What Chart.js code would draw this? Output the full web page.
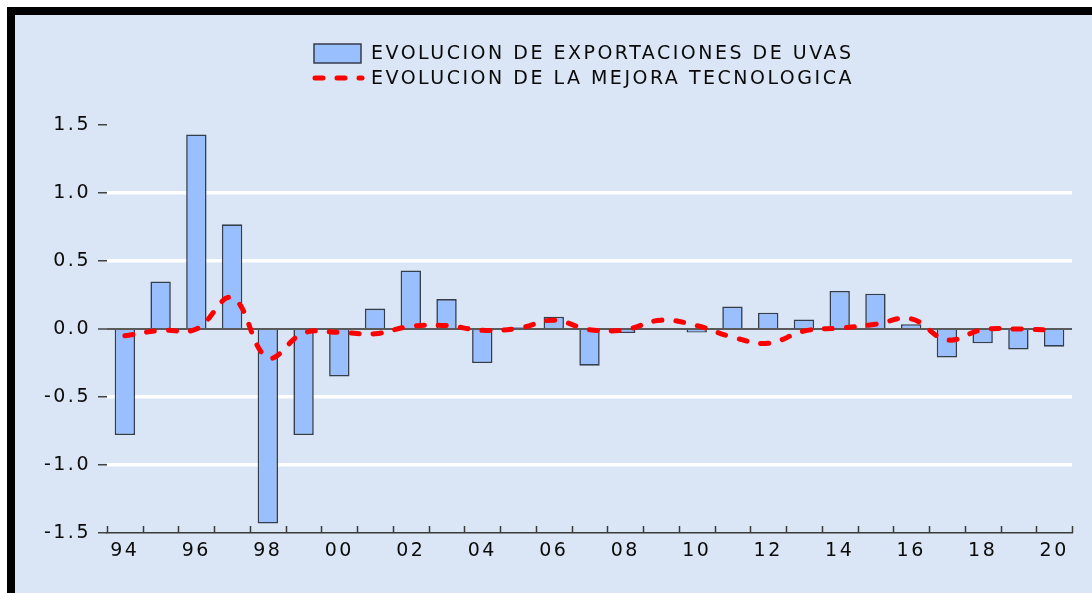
<!DOCTYPE html>
<html>
<head>
<meta charset="utf-8">
<script src="https://cdn.jsdelivr.net/npm/chart.js@4.4.1/dist/chart.umd.min.js"></script>
<style>
html, body { margin: 0; padding: 0; background: #fff; width: 1092px; height: 593px; overflow: hidden; }
#frame { position: absolute; left: 7px; top: 7px; width: 1077px; height: 578px;
         border-left: 8px solid #000; border-top: 8px solid #000; background: #dae6f5; }
#chart { position: absolute; left: 0; top: 0; }
</style>
</head>
<body>
<div id="frame"></div>
<canvas id="chart" width="1092" height="593"></canvas>
<script>

// years 1994 - 2020
var years = ['94', '95', '96', '97', '98', '99', '00', '01', '02', '03', '04', '05', '06', '07',
             '08', '09', '10', '11', '12', '13', '14', '15', '16', '17', '18', '19', '20'];

var exportaciones = [-0.78, 0.35, 1.43, 0.77, -1.43, -0.78, -0.35, 0.15, 0.43, 0.22, -0.25, 0.015, 0.09, -0.27,
                     -0.03, 0.0, -0.025, 0.165, 0.12, 0.07, 0.28, 0.26, 0.035, -0.21, -0.105, -0.15, -0.13];

var mejora = [-0.05, -0.01, 0.0, 0.23, -0.21, -0.03, -0.025, -0.035, 0.02, 0.025, -0.01, 0.005, 0.065, -0.005,
              -0.005, 0.065, 0.025, -0.06, -0.105, -0.015, 0.007, 0.035, 0.075, -0.08, -0.005, 0.0, -0.01];

var seriesNames = ['EVOLUCION DE EXPORTACIONES DE UVAS', 'EVOLUCION DE LA MEJORA TECNOLOGICA'];

var barFill = '#99bfff',
    barEdge = '#363d4a',
    lineRed = '#ff0000',
    fontFamily = "'DejaVu Sans', Verdana, sans-serif",
    fontSize = 19,
    letterGap = '2.5px';

function spacing(chart) {
    chart.ctx.letterSpacing = letterGap;
}

var spacedText = {
    id: 'spacedText',
    beforeUpdate: spacing,
    beforeRender: spacing,
    beforeDraw: spacing
};

// small tick marks on the x axis, pointing up, at the year boundaries
var innerTicks = {
    id: 'innerTicks',
    afterDraw: function(chart) {
        var ctx = chart.ctx,
            xs = chart.scales.x,
            n = years.length,
            step = (xs.right - xs.left) / n;
        ctx.save();
        ctx.strokeStyle = '#3a3a3a';
        ctx.lineWidth = 1.5;
        ctx.beginPath();
        for (var i = 0; i <= n; i++) {
            var x = Math.round(xs.left + i * step) + 0.5;
            ctx.moveTo(x, xs.top - 7);
            ctx.lineTo(x, xs.top);
        }
        ctx.stroke();
        ctx.restore();
    }
};

var boxLegend = {
    id: 'boxLegend',
    afterDraw: function(chart) {
        var ctx = chart.ctx;
        ctx.save();
        ctx.letterSpacing = letterGap;
        ctx.font = fontSize + 'px ' + fontFamily;
        ctx.textBaseline = 'alphabetic';
        ctx.textAlign = 'left';

        ctx.fillStyle = barFill;
        ctx.fillRect(314, 44, 47, 19);
        ctx.strokeStyle = barEdge;
        ctx.lineWidth = 1.5;
        ctx.strokeRect(314, 44, 47, 19);

        ctx.fillStyle = '#0a0a0a';
        ctx.fillText(seriesNames[0], 371, 59);

        ctx.strokeStyle = lineRed;
        ctx.lineWidth = 5;
        ctx.lineCap = 'round';
        ctx.setLineDash([8, 14]);
        ctx.beginPath();
        ctx.moveTo(315, 78);
        ctx.lineTo(362, 78);
        ctx.stroke();
        ctx.setLineDash([]);

        ctx.fillText(seriesNames[1], 371, 84);
        ctx.restore();
    }
};

var chart = new Chart(document.getElementById('chart').getContext('2d'), {
    type: 'bar',
    data: {
        labels: years,
        datasets: [
            {
                type: 'line',
                label: seriesNames[1],
                data: mejora,
                borderColor: lineRed,
                borderWidth: 5,
                borderDash: [8, 14],
                borderCapStyle: 'round',
                pointRadius: 0,
                tension: 0.4,
                fill: false,
                order: 0
            },
            {
                label: seriesNames[0],
                data: exportaciones,
                backgroundColor: barFill,
                borderColor: barEdge,
                borderWidth: 1.6,
                barPercentage: 0.57,
                categoryPercentage: 1,
                order: 1
            }
        ]
    },
    options: {
        responsive: false,
        animation: false,
        layout: { padding: { top: 125, right: 20, left: 0, bottom: 0 } },
        plugins: {
            legend: { display: false },
            tooltip: { enabled: false }
        },
        scales: {
            x: {
                offset: true,
                grid: { display: false, drawTicks: false },
                border: { display: true, color: '#3a3a3a', width: 1.5 },
                ticks: {
                    autoSkip: false,
                    maxRotation: 0,
                    padding: 7,
                    color: '#0a0a0a',
                    font: { family: fontFamily, size: fontSize },
                    callback: function(v, i) { return i % 2 == 0 ? years[i] : ''; }
                },
                afterFit: function(s) { s.height = 60; }
            },
            y: {
                min: -1.5,
                max: 1.5,
                border: { display: false },
                grid: {
                    color: function(c) {
                        var v = c.tick.value;
                        if (v == 0) return '#5a5a5a';
                        if (Math.abs(v) == 1.5) return 'rgba(0,0,0,0)';
                        return '#ffffff';
                    },
                    lineWidth: function(c) { return c.tick.value == 0 ? 2 : 3.5; },
                    tickColor: '#444',
                    tickLength: 9,
                    tickWidth: 1.5
                },
                ticks: {
                    stepSize: 0.5,
                    padding: 7,
                    color: '#0a0a0a',
                    font: { family: fontFamily, size: fontSize },
                    callback: function(v) { return v.toFixed(1); }
                },
                afterFit: function(s) { s.width = 107; }
            }
        }
    },
    plugins: [spacedText, innerTicks, boxLegend]
});
</script>
</body>
</html>
